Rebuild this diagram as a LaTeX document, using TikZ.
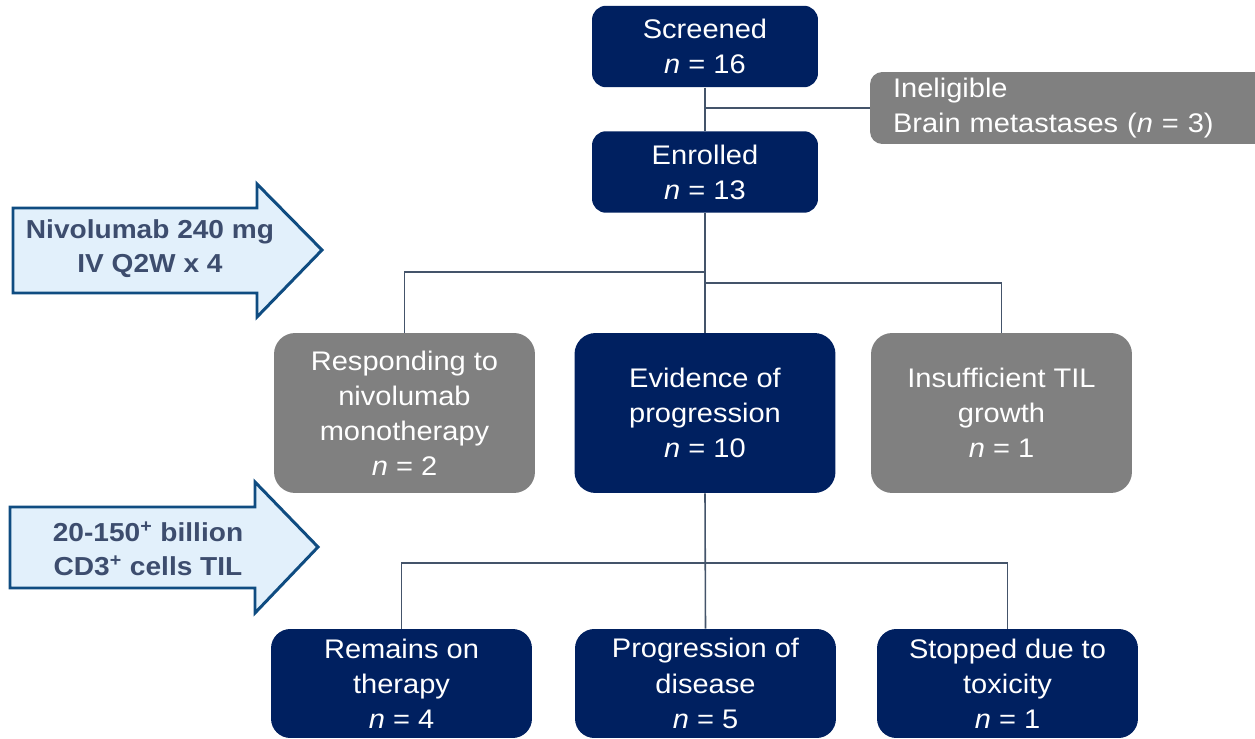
\documentclass[tikz,border=0pt]{standalone}
\usepackage{fontspec}
\setmainfont{Liberation Sans}[FakeStretch=1.08]
\usetikzlibrary{positioning}
\definecolor{navy}{HTML}{002060}
\definecolor{midgray}{HTML}{808080}
\definecolor{linkgray}{HTML}{44546A}
\definecolor{dosefill}{HTML}{E2F0FB}
\definecolor{doseline}{HTML}{0F4C81}
\definecolor{dosetext}{HTML}{3D4D6E}

\begin{document}
\begin{tikzpicture}[x=0.02cm,y=-0.02cm,
  font=\fontsize{15.3}{20}\selectfont,
  topbox/.style={rectangle,rounded corners=8pt,fill=navy,text=white,align=center,minimum width=4.52cm,minimum height=1.63cm,inner sep=0pt},
  midbox/.style={rectangle,rounded corners=12pt,fill=#1,text=white,align=center,minimum width=5.22cm,minimum height=3.2cm,inner sep=0pt},
  lowbox/.style={rectangle,rounded corners=11pt,fill=navy,text=white,align=center,minimum width=5.22cm,minimum height=2.18cm,inner sep=0pt},
  sidebox/.style={rectangle,rounded corners=7pt,fill=midgray,text=white,align=left,text width=7.28cm,inner xsep=0.46cm,inner ysep=0pt,minimum height=1.44cm},
  link/.style={draw=linkgray,line width=0.9pt},
  dosearrow/.style={draw=doseline,fill=dosefill,line width=1.7pt,line join=miter},
  dosetext/.style={text=dosetext,font=\fontsize{14.8}{19.3}\selectfont\bfseries,align=center}
]
\useasboundingbox (0,0) rectangle (1255,739);
\clip (0,0) rectangle (1255,739);

% dosing arrows
\draw[dosearrow] (13,208) -- (257,208) -- (257,184) -- (322,250) -- (257,317) -- (257,293) -- (13,293) -- cycle;
\node[dosetext] (nivo) at (150,249) {Nivolumab 240 mg\\IV Q2W x 4};
\draw[dosearrow] (10,507) -- (255,507) -- (255,482) -- (318,547) -- (255,613) -- (255,588) -- (10,588) -- cycle;
\node[dosetext] (tildose) at (148,549) {20-150\textsuperscript{+} billion\\CD3\textsuperscript{+} cells TIL};

% flow boxes
\node[topbox] (screened) at (705,46.5) {Screened\\\textit{n} = 16};
\node[topbox] (enrolled) at (705,172) {Enrolled\\\textit{n} = 13};
\node[sidebox] (inelig) at (1075,108) {Ineligible\\Brain metastases (\textit{n} = 3)};

\node[midbox=midgray] (responding) at (404.5,413) {Responding to\\nivolumab\\monotherapy\\\textit{n} = 2};
\node[midbox=navy] (evidence) at (705,413) {Evidence of\\progression\\\textit{n} = 10};
\node[midbox=midgray] (insufficient) at (1001.5,413) {Insufficient TIL\\growth\\\textit{n} = 1};

\node[lowbox] (remains) at (401.5,683.5) {Remains on\\therapy\\\textit{n} = 4};
\node[lowbox] (progression) at (705.5,683.5) {Progression of\\disease\\\textit{n} = 5};
\node[lowbox] (stopped) at (1007.5,683.5) {Stopped due to\\toxicity\\\textit{n} = 1};

% connectors
\coordinate (jl) at (705,272);
\coordinate (jr) at (705,283);
\coordinate (jb) at (705,563);
\draw[link] (screened) -- (enrolled);
\draw[link] (screened.south |- inelig.west) -- (inelig.west);
\draw[link] (enrolled) -- (evidence);
\draw[link] (jl) -| (responding);
\draw[link] (jr) -| (insufficient);
\draw[link] (evidence.south) -- (progression.north);
\draw[link] (jb) -| (remains);
\draw[link] (jb) -| (stopped);
\end{tikzpicture}
\end{document}
